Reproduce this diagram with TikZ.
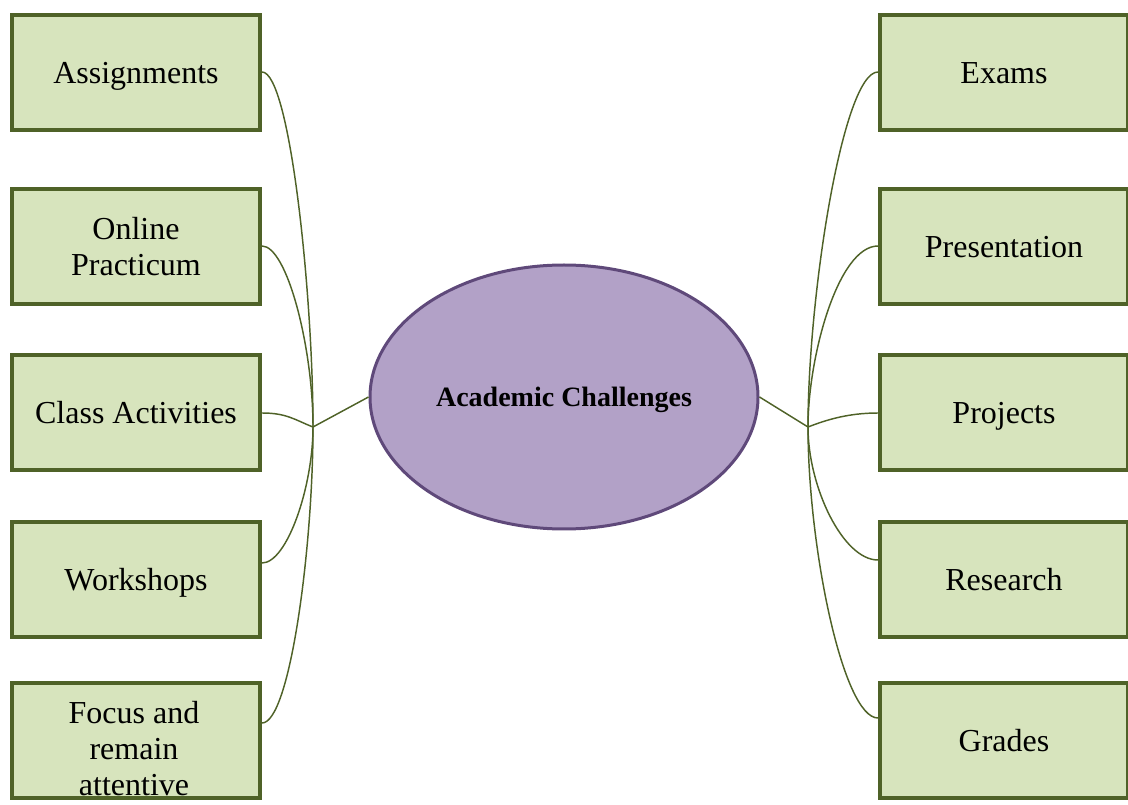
\documentclass[tikz,border=0pt]{standalone}
\usepackage{fontspec}
\setmainfont{Liberation Serif}
\usetikzlibrary{shapes.geometric,calc}
\definecolor{boxfill}{HTML}{D7E4BD}
\definecolor{boxline}{HTML}{4F6228}
\definecolor{ellfill}{HTML}{B2A1C7}
\definecolor{ellline}{HTML}{5F497A}
\tikzset{
  topic/.style={draw=boxline, fill=boxfill, line width=3pt, minimum width=186pt,
    minimum height=86.25pt, inner sep=2pt, align=center,
    font=\fontsize{24}{27}\selectfont},
  oneline/.style={text height=17pt, text depth=0pt},
  hubell/.style={ellipse, draw=ellline, fill=ellfill, line width=2.25pt,
    minimum width=291pt, minimum height=198pt, inner sep=0pt,
    text height=15pt, text depth=0pt,
    font=\bfseries\fontsize{21}{24}\selectfont},
  plaintext/.style={align=center, inner sep=0pt, font=\fontsize{24}{27}\selectfont},
  link/.style={draw=boxline, line width=1.1pt}
}
\begin{document}
\begin{tikzpicture}[x=0.75pt,y=0.75pt]
\useasboundingbox (0,0) rectangle (1128,804);
\clip (0,0) rectangle (1128,804);
% central node
\node[hubell] (c) at (564,407) {Academic Challenges};
% left boxes
\node[topic,oneline] (l1) at (136,731.5) {Assignments};
\node[topic] (l2) at (136,557.5) {Online\\Practicum};
\node[topic,oneline] (l3) at (136,391.5) {Class Activities};
\node[topic,oneline] (l4) at (136,224.5) {Workshops};
\node[topic] (l5) at (136,63.5) {};
\node[plaintext] (l5t) at ($(l5.center)+(-2,-8)$) {Focus and\\remain\\attentive};
% right boxes
\node[topic,oneline] (r1) at (1004,731.5) {Exams};
\node[topic,oneline] (r2) at (1004,557.5) {Presentation};
\node[topic,oneline] (r3) at (1004,391.5) {Projects};
\node[topic,oneline] (r4) at (1004,224.5) {Research};
\node[topic,oneline] (r5) at (1004,63.5) {Grades};
% hubs
\coordinate (L) at (313,377);
\coordinate (R) at (808,377);
% attachment points
\coordinate (a1) at ($(l1.east)+(0,0.5)$);
\coordinate (a2) at ($(l2.east)+(0,0.5)$);
\coordinate (a3) at ($(l3.east)+(0,-0.5)$);
\coordinate (a4) at ($(l4.east)+(0,16.5)$);
\coordinate (a5) at ($(l5.east)+(0,17.5)$);
\coordinate (b1) at ($(r1.west)+(0,0.5)$);
\coordinate (b2) at ($(r2.west)+(0,0.5)$);
\coordinate (b3) at ($(r3.west)+(0,-0.5)$);
\coordinate (b4) at ($(r4.west)+(0,19.5)$);
\coordinate (b5) at ($(r5.west)+(0,22.5)$);
% connectors
\draw[link] (c.west) -- (L);
\draw[link] (c.east) -- (R);
\draw[link] (a1) .. controls +(28,0) and +(0,132) .. (L);
\draw[link] (a2) .. controls +(25,0) and +(0,80) .. (L);
\draw[link] (a3) .. controls +(25,0) and +(-18,7) .. (L);
\draw[link] (a4) .. controls +(25,0) and +(0,-60) .. (L);
\draw[link] (a5) .. controls +(28,0) and +(0,-120) .. (L);
\draw[link] (b1) .. controls +(-35,0) and +(0,132) .. (R);
\draw[link] (b2) .. controls +(-40,0) and +(0,70) .. (R);
\draw[link] (b3) .. controls +(-30,0) and +(18,7) .. (R);
\draw[link] (b4) .. controls +(-35,0) and +(0,-60) .. (R);
\draw[link] (b5) .. controls +(-35,0) and +(0,-120) .. (R);
\end{tikzpicture}
\end{document}
